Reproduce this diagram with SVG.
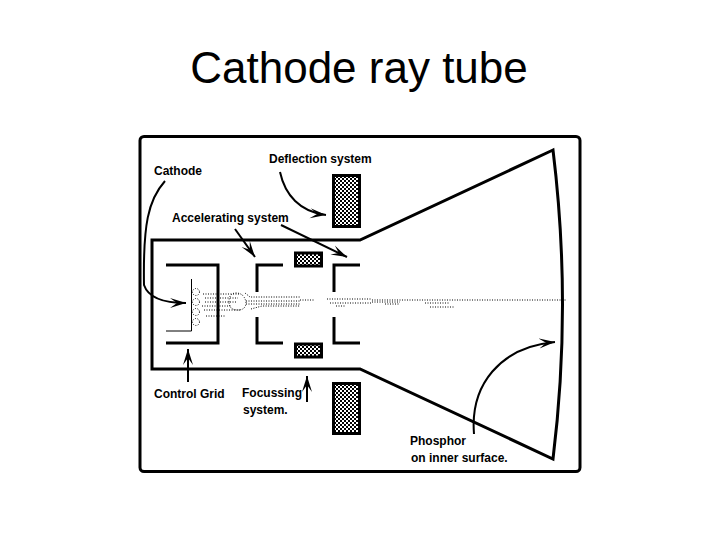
<svg xmlns="http://www.w3.org/2000/svg" width="720" height="540" viewBox="0 0 720 540">
<style>
text{font-family:"Liberation Sans",Arial,sans-serif;fill:#000}
.l{font-size:12px;font-weight:bold}
.s{fill:none;stroke:#000;stroke-width:3}
.a{fill:none;stroke:#000;stroke-width:2}
.d{fill:none;stroke:#000;stroke-width:1;stroke-dasharray:1 1.500}
.c{fill:url(#ck);stroke:#000;stroke-width:3}
</style>
<defs>
<pattern id="ck" width="4" height="4" patternUnits="userSpaceOnUse">
<rect width="4" height="4" fill="#fff"/><rect width="2" height="2" fill="#000"/><rect x="2" y="2" width="2" height="2" fill="#000"/>
</pattern>
<marker id="ah" markerWidth="18" markerHeight="12" refX="16" refY="6" orient="auto" markerUnits="userSpaceOnUse">
<path d="M0 1L16 6L0 11L7 6Z" fill="#000"/>
</marker>
</defs>
<rect width="720" height="540" fill="#fff"/>
<text x="359" y="83" font-size="44" text-anchor="middle">Cathode ray tube</text>
<g id="frame"><rect x="140" y="136.500" width="440" height="335" rx="4" fill="none" stroke="#000" stroke-width="3"/></g>
<g id="tube"><path class="s" d="M553 150L360 240H152V369H360L553 459Q572 305 553 150Z"/></g>
<g id="cathode-cup"><path class="s" d="M166 265H218V343H166"/></g>
<g id="cathode"><path d="M191.500 279V331H166" fill="none" stroke="#000"/></g>
<g id="anode-1"><path class="s" d="M283 265H257V292M257 317V343H283"/></g>
<g id="anode-2"><path class="s" d="M360 265H334V292M334 317V343H360"/></g>
<g id="plate-top"><rect class="c" x="295.500" y="253" width="26" height="13"/></g>
<g id="plate-bottom"><rect class="c" x="295.500" y="344" width="26" height="13"/></g>
<g id="coil-top"><rect class="c" x="333.500" y="175.500" width="26" height="51"/></g>
<g id="coil-bottom"><rect class="c" x="333.500" y="383.500" width="26" height="50"/></g>
<g id="beam">
<path class="d" d="M203 294H240M205 298H238M205 302H236M202 306H232M204 310H240M206 316H226"/>
<path class="d" d="M229 302Q229 293 236 293Q244 293 246 302Q246 310 238 310Q229 310 229 302Z"/>
<path class="d" d="M245 293L250 297H300M251 309L262 306H300M246 301H300M246 304H300"/>
<path class="d" d="M327 299H372M330 303H372M336 306H345"/>
<path class="d" d="M300 300H314M372 300H566M372 302H400M385 304H400M425 303H450M430 307H455"/>
<circle class="d" cx="196" cy="292" r="3.500"/><circle class="d" cx="196" cy="302" r="3.500"/><circle class="d" cx="196" cy="312" r="3.500"/><circle class="d" cx="196" cy="322" r="3.500"/>
</g>
<g id="connectors">
<path class="a" marker-end="url(#ah)" d="M165 181C148 200 143 225 144 285Q150 303 186 303"/>
<path class="a" marker-end="url(#ah)" d="M280 172C285 195 300 212 326 215"/>
<path class="a" marker-end="url(#ah)" d="M235 229L255 257"/>
<path class="a" marker-end="url(#ah)" d="M281 225L347 257"/>
<path class="a" marker-end="url(#ah)" d="M188 382V349"/>
<path class="a" marker-end="url(#ah)" d="M307 402V376"/>
<path class="a" marker-end="url(#ah)" d="M474 434C470 385 500 347 555 342"/>
</g>
<g id="labels">
<text class="l" x="154" y="175">Cathode</text>
<text class="l" x="269" y="163">Deflection system</text>
<text class="l" x="172" y="222">Accelerating system</text>
<text class="l" x="154" y="398">Control Grid</text>
<text class="l" x="242" y="397">Focussing</text>
<text class="l" x="243" y="414">system.</text>
<text class="l" x="410" y="445">Phosphor</text>
<text class="l" x="411" y="462" font-size="11.500">on inner surface.</text>
</g>
</svg>
